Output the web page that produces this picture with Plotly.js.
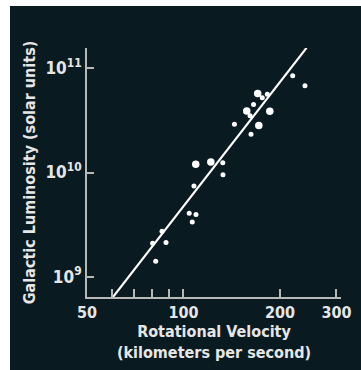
<!DOCTYPE html>
<html>
<head>
<meta charset="utf-8">
<script src="https://cdn.plot.ly/plotly-3.0.1.min.js"></script>
<style>
  html, body { margin: 0; padding: 0; background: #ffffff; width: 361px; height: 370px; overflow: hidden; }
  #chart { position: absolute; left: 10px; top: 6px; width: 351px; height: 364px; }
</style>
</head>
<body>
<div id="chart"></div>
<script>
// Rotational velocity (km/s) and galactic luminosity (solar units)
const velocitySmall = [80.1, 85.7, 88.2, 81.9, 104.2, 109.4, 106.5, 107.8, 132.6, 132.8, 144.2, 161.3, 165.4, 162.4, 176.1, 182.6, 219.1, 239.3];
const luminositySmall = [2.09e9, 2.73e9, 2.13e9, 1.41e9, 4.06e9, 3.95e9, 3.35e9, 7.42e9, 1.24e10, 9.5e9, 2.91e10, 3.51e10, 4.49e10, 2.33e10, 5.21e10, 5.64e10, 8.50e10, 6.81e10];
const velocityLarge = [109.2, 121.7, 157.5, 171.8, 170.4, 185.9];
const luminosityLarge = [1.20e10, 1.26e10, 3.89e10, 2.83e10, 5.73e10, 3.87e10];
const fitVelocity = [60.3, 242];
const fitLuminosity = [6.4e8, 1.57e11];

const xTickValues = [50, 100, 200, 300];
const xTickLabels = ['50', '100', '200', '300'];
const xMinorTickValues = [60, 70, 80, 90];
const yTickValues = [1e9, 1e10, 1e11];
const yTickLabels = ['10<sup>9</sup>', '10<sup>10</sup>', '10<sup>11</sup>'];

const FONT = '"Liberation Sans Narrow", "DejaVu Sans Condensed", "Arial Narrow", sans-serif';
const BG = '#0a1a21';
const AXIS = '#b8b8b8';
const TEXT = '#e6e6e6';

const traces = [
  {
    x: fitVelocity, y: fitLuminosity, type: 'scatter', mode: 'lines',
    line: { color: '#ffffff', width: 2.2 }, hoverinfo: 'skip'
  },
  {
    x: velocitySmall, y: luminositySmall, type: 'scatter', mode: 'markers',
    marker: { color: '#ffffff', size: 5, line: { width: 0 } }
  },
  {
    x: velocityLarge, y: luminosityLarge, type: 'scatter', mode: 'markers',
    marker: { color: '#ffffff', size: 7.5, line: { width: 0 } }
  }
];

const layout = {
  width: 351, height: 364,
  margin: { l: 77, r: 20, t: 42, b: 73, pad: 0 },
  paper_bgcolor: BG, plot_bgcolor: BG,
  showlegend: false,
  font: { family: FONT, color: TEXT, size: 16, weight: 'bold' },
  xaxis: {
    type: 'log',
    range: [Math.log10(50), Math.log10(310)],
    tickvals: xTickValues, ticktext: xTickLabels,
    ticks: 'inside', ticklen: 8, tickwidth: 2, tickcolor: AXIS,
    minor: { tickvals: xMinorTickValues, ticks: 'inside', ticklen: 8, tickwidth: 2, tickcolor: AXIS, showgrid: false },
    showline: true, linecolor: AXIS, linewidth: 2,
    showgrid: false, zeroline: false,
    tickfont: { family: FONT, size: 16, color: TEXT, weight: 'bold' },
    title: { text: 'Rotational Velocity<br>(kilometers per second)', standoff: 5,
             font: { family: FONT, size: 16, color: TEXT, weight: 'bold' } }
  },
  yaxis: {
    type: 'log',
    range: [8.805, 11.195],
    tickvals: yTickValues, ticktext: yTickLabels,
    ticks: 'inside', ticklen: 7, tickwidth: 2, tickcolor: AXIS,
    showline: true, linecolor: AXIS, linewidth: 2,
    showgrid: false, zeroline: false,
    tickfont: { family: FONT, size: 17, color: TEXT, weight: 'bold' },
    title: { text: 'Galactic Luminosity (solar units)', standoff: 6,
             font: { family: FONT, size: 16, color: TEXT, weight: 'bold' } }
  }
};

Plotly.newPlot('chart', traces, layout, { displayModeBar: false, staticPlot: true });
</script>
</body>
</html>
